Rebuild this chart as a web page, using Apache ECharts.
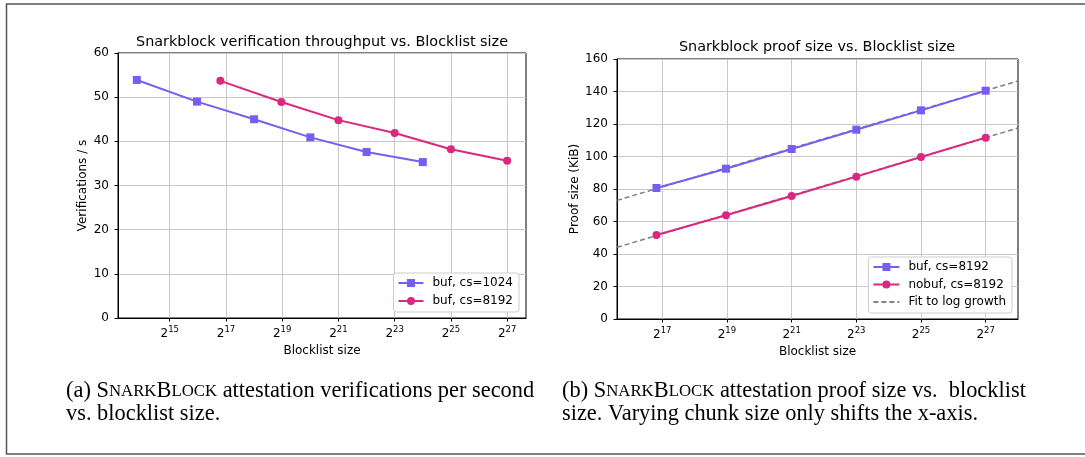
<!DOCTYPE html>
<html><head><meta charset="utf-8">
<script src="https://cdn.jsdelivr.net/npm/echarts@6/dist/echarts.min.js"></script>
<style>html,body{margin:0;padding:0;background:#fff;overflow:hidden}#c{width:1085px;height:457px}</style>
</head><body><div id="c"></div>
<script>
// ---- data (x values are log2 of blocklist size) ----
const titleA = 'Snarkblock verification throughput vs. Blocklist size';
const titleB = 'Snarkblock proof size vs. Blocklist size';
const xName = 'Blocklist size';
const yNameA = 'Verifications / s';
const yNameB = 'Proof size (KiB)';

const aBuf1024X = [13.83, 15.97, 18, 20, 22, 24];
const aBuf1024Y = [53.9, 49.0, 45.0, 40.9, 37.6, 35.3];
const aBuf8192X = [16.8, 18.97, 21, 23, 25, 27];
const aBuf8192Y = [53.7, 48.9, 44.8, 41.9, 38.2, 35.6];

const bX = [16.82, 18.97, 21, 23, 25, 27];
const bBufY = [80.6, 92.5, 104.6, 116.5, 128.4, 140.5];
const bNobufY = [51.7, 63.8, 75.7, 87.6, 99.7, 111.6];
const fitX = [15.6, 28.0];
const fitBufY = [73.0, 146.5];
const fitNobufY = [44.1, 117.5];

const aTicks = [15, 17, 19, 21, 23, 25, 27];
const bTicks = [17, 19, 21, 23, 25, 27];

const nameA1 = 'buf, cs=1024';
const nameA2 = 'buf, cs=8192';
const nameB1 = 'buf, cs=8192 ';
const nameB2 = 'nobuf, cs=8192';
const nameFit = 'Fit to log growth';

const captionA = '(a) S{sc|NARK}B{sc|LOCK} attestation verifications per second\nvs. blocklist size.';
const captionB = '(b) S{sc|NARK}B{sc|LOCK} attestation proof size vs.  blocklist\nsize. Varying chunk size only shifts the x-axis.';

// ---- styling ----
const BLUE = '#785EF0', RED = '#DC267F', GRAY = '#808080';
const FONT = 'DejaVu Sans';
const SERIF = 'Liberation Serif';
const GRIDC = '#c8c8c8';
const pts = (xs, ys) => xs.map((x, i) => [x, ys[i]]);

const xAxisCommon = (gi, min, max, ticks) => ({
  type: 'value', gridIndex: gi, min: min, max: max,
  axisLine: { show: true, onZero: false, lineStyle: { color: '#000', width: 1 } },
  axisTick: { show: true, customValues: ticks, length: 3.5, lineStyle: { color: '#000' } },
  axisLabel: {
    customValues: ticks, margin: 7, color: '#000',
    formatter: v => '{b|2}{s|' + v + '}',
    rich: {
      b: { fontFamily: FONT, fontSize: 12, color: '#000', padding: [3, 0, 0, 0] },
      s: { fontFamily: FONT, fontSize: 8.5, color: '#000', verticalAlign: 'top' }
    }
  },
  splitLine: { show: true, lineStyle: { color: GRIDC, width: 1 } },
  name: xName, nameLocation: 'middle', nameGap: 25,
  nameTextStyle: { fontFamily: FONT, fontSize: 12, color: '#000' }
});
const yAxisCommon = (gi, max, interval, name, gap) => ({
  type: 'value', gridIndex: gi, min: 0, max: max, interval: interval,
  axisLine: { show: true, lineStyle: { color: '#000', width: 1 } },
  axisTick: { show: true, length: 3.5, lineStyle: { color: '#000' } },
  axisLabel: { margin: 9, fontFamily: FONT, fontSize: 12, color: '#000' },
  splitLine: { show: true, lineStyle: { color: GRIDC, width: 1 } },
  name: name, nameLocation: 'middle', nameGap: gap, nameRotate: 90,
  nameTextStyle: { fontFamily: FONT, fontSize: 12, color: '#000' }
});

const lineSeries = (name, data, color, symbol, xi) => ({
  type: 'line', name: name, data: data, xAxisIndex: xi, yAxisIndex: xi,
  symbol: symbol, symbolSize: 8, showSymbol: true,
  itemStyle: { color: color }, lineStyle: { color: color, width: 2 },
  z: 3
});
const fitSeries = (data) => ({
  type: 'line', name: nameFit, data: data, xAxisIndex: 1, yAxisIndex: 1,
  symbol: 'none', showSymbol: false, itemStyle: { color: GRAY },
  lineStyle: { color: GRAY, width: 1.5, type: [5, 3] }, z: 2
});

const legendText = { fontFamily: FONT, fontSize: 12, color: '#000', padding: [0, 0, 0, 4] };

const chart = echarts.init(document.getElementById('c'), null, { renderer: 'canvas' });
chart.setOption({
  animation: false,
  backgroundColor: '#fff',
  graphic: [{
    type: 'rect', shape: { x: 6.5, y: 4, width: 1100, height: 450 },
    style: { fill: 'none', stroke: '#555', lineWidth: 1.5 }, silent: true
  }],
  title: [
    { text: titleA, left: 322, top: 35, textAlign: 'center', padding: 0,
      textStyle: { fontFamily: FONT, fontSize: 14.4, fontWeight: 'normal', color: '#000' } },
    { text: titleB, left: 817, top: 40, textAlign: 'center', padding: 0,
      textStyle: { fontFamily: FONT, fontSize: 14.4, fontWeight: 'normal', color: '#000' } },
    { text: captionA, left: 66, top: 380, padding: 0,
      textStyle: { fontFamily: SERIF, fontSize: 22.4, fontWeight: 'normal', color: '#000', lineHeight: 23,
        rich: { sc: { fontFamily: SERIF, fontSize: 16.8, color: '#000', lineHeight: 23 } } } },
    { text: captionB, left: 562, top: 380, padding: 0,
      textStyle: { fontFamily: SERIF, fontSize: 22.4, fontWeight: 'normal', color: '#000', lineHeight: 23,
        rich: { sc: { fontFamily: SERIF, fontSize: 16.8, color: '#000', lineHeight: 23 } } } }
  ],
  grid: [
    { left: 118, top: 53, width: 408, height: 265, show: true, borderColor: '#000', borderWidth: 1, backgroundColor: 'transparent' },
    { left: 617, top: 59, width: 401, height: 260, show: true, borderColor: '#000', borderWidth: 1, backgroundColor: 'transparent' }
  ],
  xAxis: [ xAxisCommon(0, 13.16, 27.67, aTicks), xAxisCommon(1, 15.6, 28.0, bTicks) ],
  yAxis: [ yAxisCommon(0, 60, 10, yNameA, 29), yAxisCommon(1, 160, 20, yNameB, 36) ],
  legend: [
    { data: [nameA1, nameA2], orient: 'vertical', right: 566, top: 273,
      padding: [4, 6, 5, 4], itemGap: 6, itemWidth: 25, itemHeight: 10,
      backgroundColor: '#fff', borderColor: '#cccccc', borderWidth: 1, borderRadius: 3,
      textStyle: legendText },
    { data: [nameB1, nameB2, { name: nameFit, itemStyle: { opacity: 0 } }], orient: 'vertical', right: 73, top: 257,
      padding: [4, 6, 5, 4], itemGap: 5.5, itemWidth: 26, itemHeight: 10,
      backgroundColor: '#fff', borderColor: '#cccccc', borderWidth: 1, borderRadius: 3,
      textStyle: legendText }
  ],
  series: [
    lineSeries(nameA1, pts(aBuf1024X, aBuf1024Y), BLUE, 'rect', 0),
    lineSeries(nameA2, pts(aBuf8192X, aBuf8192Y), RED, 'circle', 0),
    fitSeries(pts(fitX, fitBufY)),
    fitSeries(pts(fitX, fitNobufY)),
    lineSeries(nameB1, pts(bX, bBufY), BLUE, 'rect', 1),
    lineSeries(nameB2, pts(bX, bNobufY), RED, 'circle', 1)
  ]
});
</script>
</body></html>
